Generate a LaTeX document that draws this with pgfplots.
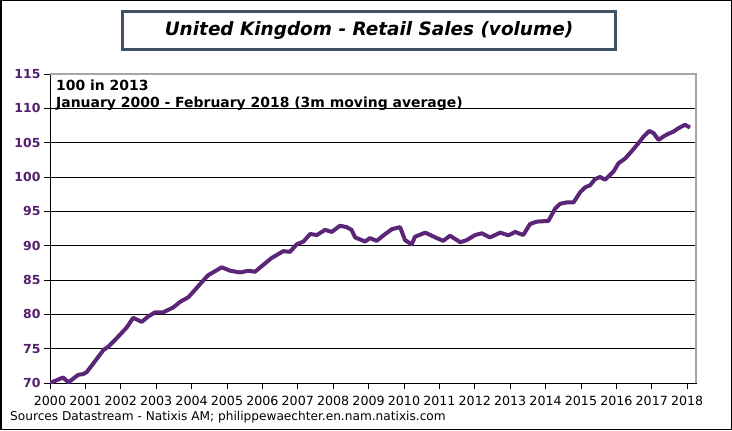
\documentclass[border=0pt]{standalone}
\usepackage{fontspec}
\setmainfont{DejaVu Sans}
\usepackage{pgfplots}
\pgfplotsset{compat=1.18}
\definecolor{linepurple}{RGB}{91,38,120}
\definecolor{tickpurple}{RGB}{84,30,110}
\definecolor{boxslate}{RGB}{64,82,98}
\begin{document}
\begin{tikzpicture}[x=1bp,y=1bp]
\useasboundingbox (0,0) rectangle (732,430);
\draw[black, line width=1.5bp] (0.75,0.75) rectangle (731.25,429.25);
\begin{axis}[
  at={(50bp,47bp)}, anchor=south west,
  scale only axis, width=646bp, height=309bp,
  xmin=2000, xmax=2018.25, ymin=70, ymax=115,
  xtick={2000,2001,...,2018}, ytick={70,75,...,115},
  xtick pos=left, ytick pos=left,
  tick align=outside, major tick length=6bp,
  tick style={black, line width=0.8bp},
  axis line style={black, line width=1bp},
  ymajorgrids, grid style={black, line width=1bp},
  /pgf/number format/assume math mode=true,
  /pgf/number format/1000 sep={},
  xticklabel style={font=\fontsize{12.7}{15}\selectfont, yshift=-4bp},
  yticklabel style={font=\bfseries\fontsize{12.5}{14}\selectfont, text=tickpurple},
]
\addplot[linepurple, line width=4bp, line join=round] coordinates {
(2000.00,70.0) (2000.37,70.8) (2000.52,70.1) (2000.80,71.2) (2000.94,71.3)
(2001.04,71.6) (2001.51,74.8) (2001.65,75.3) (2001.88,76.5) (2002.17,78.1)
(2002.35,79.5) (2002.59,78.9) (2002.78,79.7) (2002.97,80.3) (2003.20,80.3)
(2003.48,81.0) (2003.67,81.8) (2003.91,82.5) (2004.12,83.7) (2004.36,85.1)
(2004.47,85.7) (2004.85,86.85) (2005.09,86.35) (2005.37,86.1) (2005.60,86.35)
(2005.79,86.2) (2006.26,88.2) (2006.59,89.2) (2006.78,89.1) (2006.97,90.2)
(2007.16,90.6) (2007.35,91.7) (2007.54,91.55) (2007.77,92.3) (2007.96,92.0)
(2008.19,92.9) (2008.38,92.7) (2008.52,92.3) (2008.62,91.2) (2008.90,90.6)
(2009.04,91.1) (2009.23,90.7) (2009.47,91.7) (2009.66,92.4) (2009.89,92.7)
(2010.03,90.8) (2010.22,90.2) (2010.31,91.3) (2010.60,91.9) (2010.93,91.1)
(2011.11,90.7) (2011.30,91.45) (2011.59,90.5) (2011.77,90.8) (2012.01,91.55)
(2012.20,91.8) (2012.43,91.2) (2012.72,91.9) (2012.95,91.5) (2013.14,92.0)
(2013.37,91.55) (2013.56,93.15) (2013.75,93.5) (2014.08,93.6) (2014.27,95.4)
(2014.41,96.1) (2014.60,96.3) (2014.79,96.3) (2014.98,97.8) (2015.12,98.5)
(2015.26,98.8) (2015.40,99.7) (2015.54,100.0) (2015.68,99.6) (2015.92,100.8)
(2016.06,102.0) (2016.25,102.7) (2016.44,103.8) (2016.62,104.9) (2016.77,105.9)
(2016.93,106.7) (2017.05,106.4) (2017.19,105.4) (2017.33,105.9) (2017.47,106.3)
(2017.61,106.6) (2017.75,107.1) (2017.94,107.6) (2018.08,107.2)
};
\end{axis}
\draw[gray!70, line width=1.2bp] (50,356) -- (696,356) -- (696,47);
\node[anchor=base west, inner sep=0pt, font=\bfseries\fontsize{14}{16}\selectfont] at (56,340) {100 in 2013};
\node[anchor=base west, inner sep=0pt, font=\bfseries\fontsize{14}{16}\selectfont] at (56,323) {January 2000 - February 2018 (3m moving average)};
\node[anchor=base west, inner sep=0pt, font=\fontsize{12.2}{14}\selectfont] at (10,9.5) {Sources Datastream - Natixis AM; philippewaechter.en.nam.natixis.com};
\node[draw=boxslate, line width=3bp, minimum width=492bp, minimum height=37bp, inner sep=0pt, font=\bfseries\itshape\fontsize{18.5}{21}\selectfont] at (369,399.5) {United Kingdom -  Retail Sales (volume)};
\end{tikzpicture}
\end{document}
